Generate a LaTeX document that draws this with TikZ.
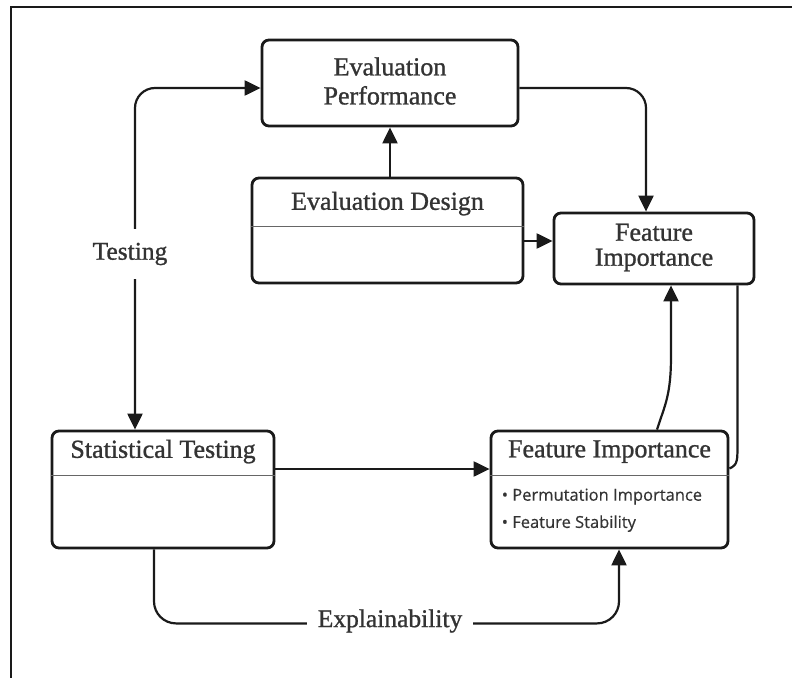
\documentclass[tikz,border=0pt]{standalone}
\usepackage{fontspec}
\setmainfont{Liberation Serif}
\newfontfamily\labelfont{Liberation Serif}[FakeBold=1.0]
\newfontfamily\bulletfont{Open Sans}[FakeBold=0.4]
\usetikzlibrary{arrows.meta}

\definecolor{ink}{HTML}{1A1A1A}
\definecolor{txt}{HTML}{333333}

\tikzset{
  box/.style={draw=ink, line width=2.8pt, rounded corners=7pt, fill=white,
    inner sep=0pt},
  title/.style={text=txt, font=\labelfont\fontsize{26}{31}\selectfont, align=center,
    inner sep=0pt},
  bullet/.style={text=txt, font=\bulletfont\fontsize{16.5}{19}\selectfont,
    anchor=west, inner sep=0pt},
  rule/.style={draw=gray!80!black, line width=1.3pt},
  conn/.style={draw=ink, line width=2.2pt},
  arr/.style={conn, -{Triangle[length=16pt,width=15pt]}},
  darr/.style={conn, {Triangle[length=16pt,width=15pt]}-{Triangle[length=16pt,width=15pt]}},
  lbl/.style={fill=white, text=txt, font=\labelfont\fontsize{25.5}{30}\selectfont,
    inner xsep=11pt, inner ysep=14pt},
}

\begin{document}
\begin{tikzpicture}[x=1pt, y=-1pt]
  \useasboundingbox (0,0) rectangle (792,677);
  \fill[white] (0,0) rectangle (792,677);

  % outer frame (top and left edges)
  \draw[ink, line width=2pt] (11,690) -- (11,7) -- (800,7);

  % boxes
  \node[box, minimum width=256pt, minimum height=86pt] (ep) at (390,83) {};
  \node[box, minimum width=271pt, minimum height=105pt] (ed) at (387.5,230.5) {};
  \node[box, minimum width=200pt, minimum height=71pt] (fit) at (654,248.5) {};
  \node[box, minimum width=222pt, minimum height=117pt] (st) at (163,489.5) {};
  \node[box, minimum width=237pt, minimum height=117pt] (fib) at (609.5,489.5) {};

  % compartment dividers
  \draw[rule] ([yshift=-50pt]ed.north west) -- ([yshift=-50pt]ed.north east);
  \draw[rule] ([yshift=-46pt]st.north west) -- ([yshift=-46pt]st.north east);
  \draw[rule] ([yshift=-46pt]fib.north west) -- ([yshift=-46pt]fib.north east);

  % box texts
  \node[title] (eptxt) at ([yshift=2pt]ep.center) {Evaluation\\[-2pt]Performance};
  \node[title] (edtxt) at ([yshift=-27pt]ed.north) {Evaluation Design};
  \node[title] (fittxt) at ([yshift=1pt]fit.center) {Feature\\[-6pt]Importance};
  \node[title] (sttxt) at ([yshift=-22pt]st.north) {Statistical Testing};
  \node[title] (fibtxt) at ([yshift=-22pt]fib.north) {Feature Importance};
  \node[bullet] (b1) at ([xshift=12pt,yshift=-67pt]fib.north west) {\textbullet\ Permutation Importance};
  \node[bullet] (b2) at ([xshift=12pt,yshift=-94pt]fib.north west) {\textbullet\ Feature Stability};

  % connectors
  \draw[darr, rounded corners=20pt] ([xshift=-28pt]st.north) |- ([yshift=-5pt]ep.west);
  \node[lbl] (testing) at (130,254) {Testing};

  \draw[arr, rounded corners=20pt] ([yshift=-5pt]ep.east) -| ([xshift=-8pt]fit.north);
  \draw[arr] (ep.south |- ed.north) -- (ep.south);
  \draw[arr] (ed.east |- 0,241) -- (fit.west |- 0,241);
  \draw[arr] (st.east |- 0,469) -- (fib.west |- 0,469);

  \draw[arr] ([xshift=47.5pt]fib.north) .. controls ++(8,-25) and ++(0,40) .. ([xshift=17pt,yshift=-70pt]fit.south) -- ([xshift=17pt]fit.south);
  \draw[conn] ([xshift=-18pt]fit.south east) -- ++(0,168) .. controls ++(0,12) and ++(4,-2) .. ([yshift=21pt]fib.east);

  \draw[arr, rounded corners=22pt] ([xshift=-9pt]st.south) -- ++(0,74) -| ([xshift=9.5pt]fib.south);
  \node[lbl] (explain) at (390,621) {Explainability};
\end{tikzpicture}
\end{document}
